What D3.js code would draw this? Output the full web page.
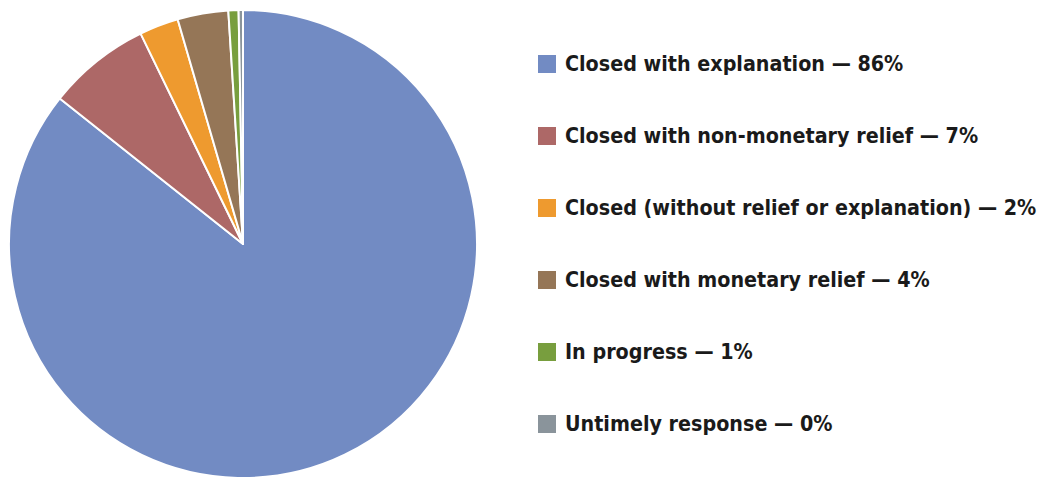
<!DOCTYPE html>
<html>
<head>
<meta charset="utf-8">
<style>
  body { margin: 0; background: #fff; }
  text { font-family: "Liberation Sans Narrow", "DejaVu Sans Condensed", "Liberation Sans", sans-serif; font-weight: bold; fill: #1a1a1a; }
</style>
</head>
<body>
<svg width="1037" height="478"></svg>
<script src="https://cdn.jsdelivr.net/npm/d3@7"></script>
<script>
var categories = ["Closed with explanation", "Closed with non-monetary relief", "Closed (without relief or explanation)", "Closed with monetary relief", "In progress", "Untimely response"];
var shares = [85.6, 7.1, 2.7, 3.5, 0.7, 0.3];
var shareLabels = ["86%", "7%", "2%", "4%", "1%", "0%"];
var colors = ["#728bc3", "#ad6867", "#ee9a2f", "#957657", "#789e3e", "#8a949b"];

var svg = d3.select("svg");
var cx = 243, cy = 244, radius = 234;

var pie = d3.pie().sort(null).value(function(d) { return d; });
var arc = d3.arc().innerRadius(0).outerRadius(radius);

svg.append("g")
  .attr("transform", "translate(" + cx + "," + cy + ")")
  .selectAll("path")
  .data(pie(shares))
  .enter().append("path")
  .attr("d", arc)
  .attr("fill", function(d, i) { return colors[i]; })
  .attr("stroke", "#fff")
  .attr("stroke-width", 2)
  .attr("stroke-linejoin", "round");

var y = d3.scaleBand().domain(categories).range([28, 460]);

var legend = svg.selectAll(".legend").data(categories)
  .enter().append("g")
  .attr("class", "legend")
  .attr("transform", function(d) { return "translate(538," + (y(d) + y.bandwidth() / 2) + ")"; });

legend.append("rect")
  .attr("x", 0).attr("y", -9)
  .attr("width", 18).attr("height", 18)
  .attr("fill", function(d, i) { return colors[i]; });

legend.append("text")
  .attr("x", 27).attr("y", 0)
  .attr("dy", "0.35em")
  .attr("font-size", 21.3)
  .text(function(d, i) { return d + " \u2014 " + shareLabels[i]; });
</script>
</body>
</html>
